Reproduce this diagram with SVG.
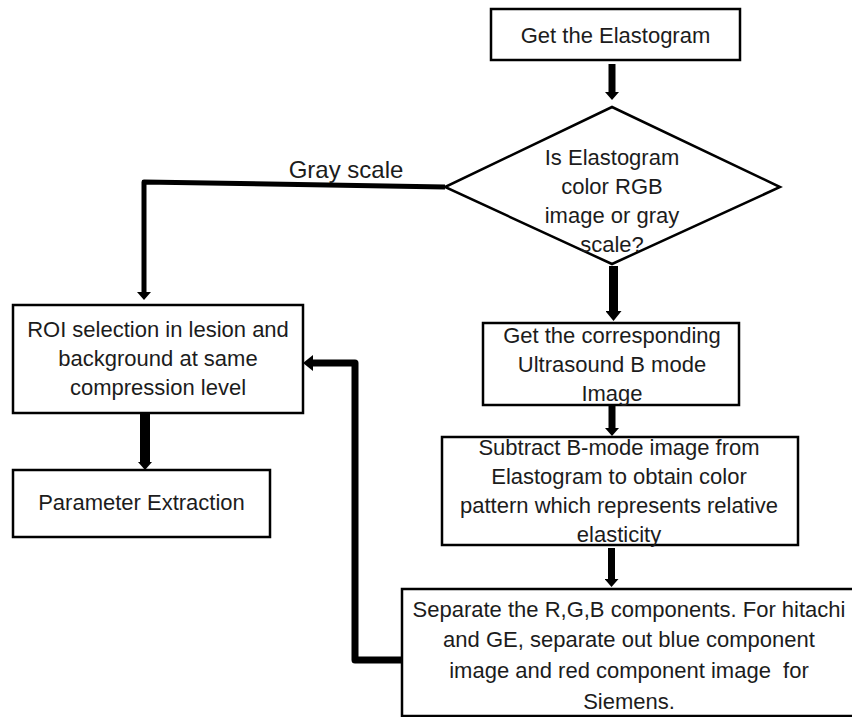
<svg xmlns="http://www.w3.org/2000/svg" width="852" height="717" viewBox="0 0 852 717">
<style>
  .box { fill: #ffffff; stroke: #000000; stroke-width: 2.5; }
  .t { font-family: "Liberation Sans", Arial, sans-serif; font-size: 22px; fill: #1c1c1c; text-anchor: middle; }
  .c { fill: none; stroke: #000000; stroke-linejoin: round; }
</style>
<defs>
  <marker id="ah" viewBox="0 0 10 16" refX="0" refY="8" markerWidth="10" markerHeight="16" markerUnits="userSpaceOnUse" orient="auto">
    <path d="M0,0 L10,8 L0,16 Z" fill="#000000"/>
  </marker>
  <marker id="ahs" viewBox="0 0 8 14" refX="0" refY="7" markerWidth="8" markerHeight="14" markerUnits="userSpaceOnUse" orient="auto">
    <path d="M0,0 L8,7 L0,14 Z" fill="#000000"/>
  </marker>
</defs>
<rect width="852" height="717" fill="#ffffff"/>

<g id="connectors">
  <line class="c" x1="612" y1="64" x2="612" y2="92" stroke-width="7" marker-end="url(#ahs)"/>
  <line class="c" x1="613.5" y1="266" x2="613.5" y2="311" stroke-width="9" marker-end="url(#ah)"/>
  <line class="c" x1="612" y1="406" x2="612" y2="428" stroke-width="7" marker-end="url(#ahs)"/>
  <line class="c" x1="611.5" y1="548" x2="611.5" y2="579" stroke-width="7" marker-end="url(#ahs)"/>
  <line class="c" x1="145" y1="414" x2="145" y2="462" stroke-width="10" marker-end="url(#ahs)"/>
  <polyline class="c" points="445,187 144,182 144,292" stroke-width="5" marker-end="url(#ahs)"/>
  <polyline class="c" points="402,660 355,660 355,363 313,363" stroke-width="7" marker-end="url(#ah)"/>
  <text class="t" x="346" y="178" style="font-size:24px">Gray scale</text>
</g>

<g id="get-elastogram">
  <rect class="box" x="491" y="9" width="249" height="51"/>
  <text class="t" x="615.5" y="43">Get the Elastogram</text>
</g>

<g id="decision">
  <polygon class="box" points="612,107 780,187 612,264 445,187"/>
  <text class="t" x="612" y="165">Is Elastogram</text>
  <text class="t" x="612" y="194">color RGB</text>
  <text class="t" x="612" y="223">image or gray</text>
  <text class="t" x="612" y="252">scale?</text>
</g>

<g id="get-bmode">
  <rect class="box" x="483" y="323" width="256" height="82"/>
  <text class="t" x="612" y="343">Get the corresponding</text>
  <text class="t" x="612" y="372">Ultrasound B mode</text>
  <text class="t" x="612" y="401">Image</text>
</g>

<g id="subtract">
  <rect class="box" x="442" y="437" width="356" height="108"/>
  <text class="t" x="619" y="455">Subtract B-mode image from</text>
  <text class="t" x="619" y="484">Elastogram to obtain color</text>
  <text class="t" x="619" y="513">pattern which represents relative</text>
  <text class="t" x="619" y="542">elasticity</text>
</g>

<g id="separate">
  <rect class="box" x="402" y="589" width="456" height="127"/>
  <text class="t" x="629" y="617">Separate the R,G,B components. For hitachi</text>
  <text class="t" x="629" y="647">and GE, separate out blue component</text>
  <text class="t" x="629" y="678" style="white-space:pre">image and red component image  for</text>
  <text class="t" x="629" y="709">Siemens.</text>
</g>

<g id="roi">
  <rect class="box" x="13" y="305" width="290" height="108"/>
  <text class="t" x="158" y="337">ROI selection in lesion and</text>
  <text class="t" x="158" y="366">background at same</text>
  <text class="t" x="158" y="395">compression level</text>
</g>

<g id="parameter">
  <rect class="box" x="13" y="470" width="257" height="67"/>
  <text class="t" x="141.5" y="510">Parameter Extraction</text>
</g>
</svg>
